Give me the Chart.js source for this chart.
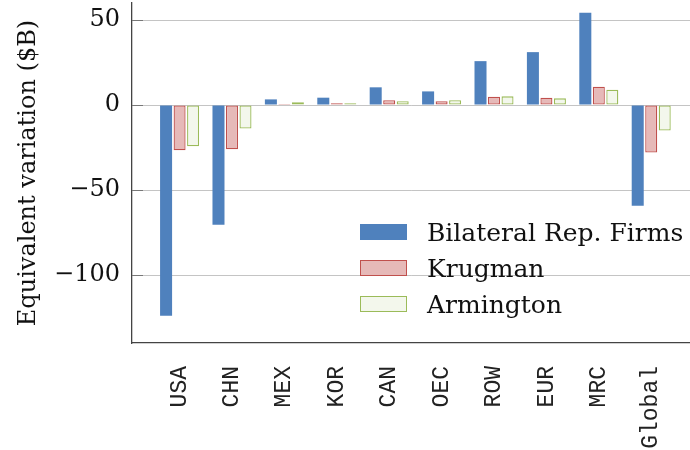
<!DOCTYPE html>
<html>
<head>
<meta charset="utf-8">
<script src="https://cdn.jsdelivr.net/npm/chart.js@4"></script>
<style>
  html, body { margin: 0; padding: 0; background: #fff; overflow: hidden; }
</style>
</head>
<body>
<canvas id="myChart" width="690" height="450"></canvas>
<script>
var countries = ['USA', 'CHN', 'MEX', 'KOR', 'CAN', 'OEC', 'ROW', 'EUR', 'MRC', 'Global']
var bilateral = [-124, -70.5, 3.3, 4.3, 10.4, 8.0, 25.8, 31.1, 54.3, -59.2]
var krugman = [-26.6, -26, 0.6, 1.0, 2.8, 2.2, 4.9, 4.3, 10.8, -27.9]
var armington = [-24.3, -13.8, 1.6, 1.0, 2.2, 2.8, 5.1, 3.9, 9.0, -15.0]
var yTickValues = [-100, -50, 0, 50]

var serif = '"DejaVu Serif", serif'

function points(values) {
  return values.map(function (v, i) { return { x: i, y: v } })
}

// legend sits inside the plot, lower right
var insideLegend = {
  id: 'insideLegend',
  afterDraw: function (chart) {
    var ctx = chart.ctx
    ctx.save()
    chart.data.datasets.forEach(function (ds, i) {
      var top = 224 + i * 36
      ctx.fillStyle = ds.backgroundColor
      ctx.fillRect(360, top, 47, 16)
      if (ds.borderWidth) {
        ctx.strokeStyle = ds.borderColor
        ctx.lineWidth = 1
        ctx.strokeRect(360.5, top + 0.5, 46, 15)
      }
      ctx.fillStyle = '#111'
      ctx.font = '25px ' + serif
      ctx.textBaseline = 'alphabetic'
      ctx.fillText(ds.label, 427, top + 16.5)
    })
    ctx.restore()
  }
}

// short tick marks inside the plot on the y axis
var innerTicks = {
  id: 'innerTicks',
  afterDraw: function (chart) {
    var ctx = chart.ctx
    var y = chart.scales.y
    var left = chart.chartArea.left
    ctx.save()
    ctx.strokeStyle = '#777'
    ctx.lineWidth = 1
    y.ticks.forEach(function (t) {
      var py = Math.round(y.getPixelForValue(t.value)) + 0.5
      ctx.beginPath()
      ctx.moveTo(left, py)
      ctx.lineTo(left + 11, py)
      ctx.stroke()
    })
    ctx.restore()
  }
}

var ctx = document.getElementById('myChart').getContext('2d')
var myChart = new Chart(ctx, {
  type: 'bar',
  data: {
    datasets: [{
      label: 'Bilateral Rep. Firms',
      data: points(bilateral),
      backgroundColor: '#4f81bd',
      borderWidth: 0,
    }, {
      label: 'Krugman',
      data: points(krugman),
      backgroundColor: '#e6b9b8',
      borderColor: '#c0504d',
      borderWidth: 1.3,
      borderSkipped: false,
    }, {
      label: 'Armington',
      data: points(armington),
      backgroundColor: '#f3f7ec',
      borderColor: '#9bbb59',
      borderWidth: 1.3,
      borderSkipped: false,
    }]
  },
  options: {
    responsive: false,
    animation: false,
    categoryPercentage: 0.773,
    barPercentage: 0.89,
    layout: { padding: { top: 3, right: 0, bottom: 0, left: 0 } },
    plugins: {
      legend: { display: false },
      tooltip: { enabled: false },
    },
    scales: {
      x: {
        type: 'linear',
        offset: false,
        min: -0.908,
        max: 9.74,
        grid: { display: false, drawTicks: false, offset: false },
        border: { display: true, color: '#444', width: 1.3 },
        ticks: {
          stepSize: 1,
          includeBounds: false,
          autoSkip: false,
          minRotation: 90,
          maxRotation: 90,
          padding: 23,
          color: '#222',
          font: { family: '"Liberation Mono", "Courier New", monospace', size: 23 },
          callback: function (v) { return countries[v] || '' },
        },
        afterFit: function (scale) {
          scale.height = 107
          scale.paddingLeft = 0
          scale.paddingRight = 0
        },
      },
      y: {
        min: -140,
        max: 60,
        grid: { color: '#c4c4c4', lineWidth: 1, drawTicks: false },
        border: { display: true, color: '#444', width: 1.3 },
        ticks: {
          padding: 12,
          color: '#111',
          font: { family: serif, size: 24 },
          callback: function (v) { return v < 0 ? '\u2212' + Math.abs(v) : v },
        },
        afterBuildTicks: function (scale) {
          scale.ticks = yTickValues.map(function (v) { return { value: v } })
        },
        title: {
          display: true,
          text: 'Equivalent variation ($B)',
          color: '#111',
          font: { family: serif, size: 24, lineHeight: 1.2 },
          padding: { top: 14, bottom: 0 },
        },
        afterFit: function (scale) {
          scale.width = 132
          scale.paddingTop = 0
          scale.paddingBottom = 0
        },
      }
    }
  },
  plugins: [insideLegend, innerTicks]
})
</script>
</body>
</html>
